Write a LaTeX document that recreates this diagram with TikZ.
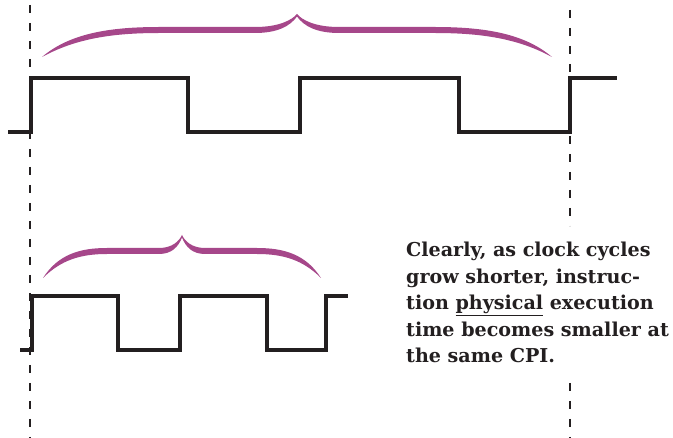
\documentclass[tikz,border=0pt]{standalone}
\usepackage{fontspec}
\setmainfont{DejaVu Serif}
\definecolor{bracepurple}{HTML}{A6478A}
\definecolor{wave}{HTML}{231F20}
\tikzset{
  wavestyle/.style={draw=wave, line width=3.4pt, line join=miter},
  guide/.style={draw=wave, line width=1.8pt, dash pattern=on 8pt off 10pt},
  bracefill/.style={fill=bracepurple, draw=none},
}
\newcommand{\bracepath}{%
  (-1,43) .. controls (-0.89,19) and (-0.73,13) .. (-0.54,13)
  -- (-0.165,13) .. controls (-0.07,13) and (-0.02,6) .. (0,0)
  .. controls (0.02,6) and (0.07,13) .. (0.165,13)
  -- (0.54,13) .. controls (0.73,13) and (0.89,19) .. (1,43)
  .. controls (0.87,25) and (0.73,19) .. (0.54,19)
  -- (0.165,19) .. controls (0.075,19) and (0.027,12) .. (0,2.5)
  .. controls (-0.027,12) and (-0.075,19) .. (-0.165,19)
  -- (-0.54,19) .. controls (-0.73,19) and (-0.87,25) .. (-1,43) -- cycle}
\begin{document}
\begin{tikzpicture}[x=1pt,y=-1pt]
\useasboundingbox (0,0) rectangle (673,438);
% guide lines
\coordinate (gl1) at (30,5);
\coordinate (gl2) at (30,438);
\coordinate (gr1) at (570,10);
\coordinate (gr2) at (570,226);
\coordinate (gr3) at (570,383);
\coordinate (gr4) at (570,438);
\draw[guide] (gl1) -- (gl2);
\draw[guide] (gr1) -- (gr2);
\draw[guide] (gr3) -- (gr4);
% big clock
\draw[wavestyle] (8,132) -- (31,132) -- (31,78) -- (188,78) -- (188,132) -- (300,132)
  -- (300,78) -- (459,78) -- (459,132) -- (570,132) -- (570,78) -- (617,78);
% small clock
\draw[wavestyle] (20,350) -- (32,350) -- (32,296) -- (118,296) -- (118,350) -- (180,350)
  -- (180,296) -- (267,296) -- (267,350) -- (326,350) -- (326,296) -- (348,296);
% braces
\begin{scope}[shift={(297,14)}, xscale=255]
  \fill[bracefill] \bracepath;
\end{scope}
\begin{scope}[shift={(182,235)}, xscale=139]
  \fill[bracefill] \bracepath;
\end{scope}
% text
\node[anchor=base west, align=left, inner sep=0pt, font=\fontsize{19.1}{26.5}\selectfont\bfseries, text=wave] (note) at (406,363)
  {Clearly, as clock cycles\\grow shorter, instruc-\\tion \underline{physical} execution\\time becomes smaller at\\the same CPI.};
\end{tikzpicture}
\end{document}
